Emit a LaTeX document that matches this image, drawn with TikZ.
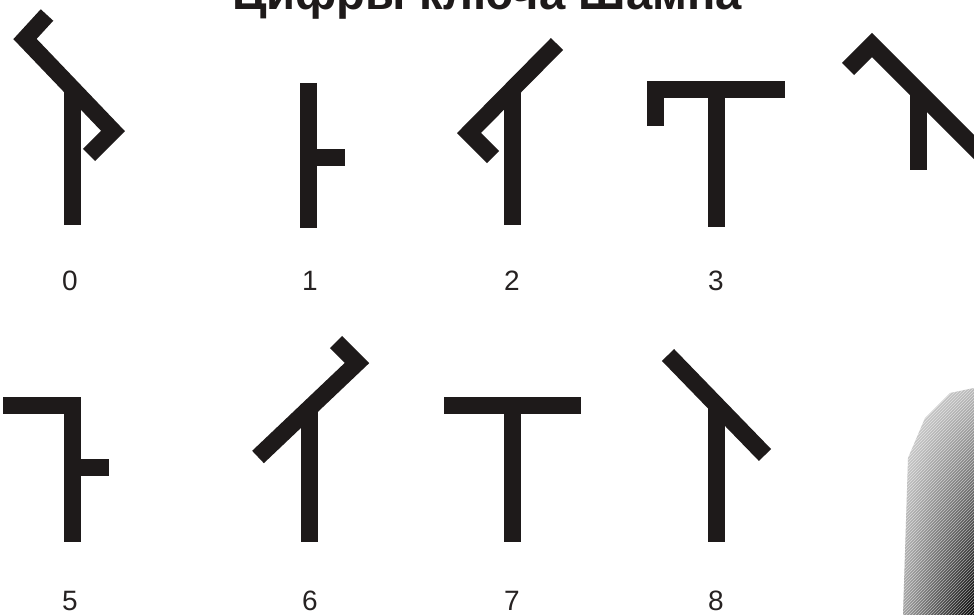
\documentclass[tikz,border=0pt]{standalone}
\usepackage{fontspec}
\setmainfont{Liberation Sans}
\usetikzlibrary{patterns,shadings}
\definecolor{ink}{HTML}{1E1A1A}
\definecolor{digitc}{HTML}{262222}
\begin{document}
\begin{tikzpicture}[x=1pt,y=-1pt,
  glyph/.style={draw=ink, line width=17pt, line cap=butt, line join=miter},
  digit/.style={font=\fontsize{28}{28}\selectfont, text=digitc, inner sep=0pt, anchor=base}]
\useasboundingbox (0,0) rectangle (974,615);
\clip (0,0) rectangle (974,615);
\fill[white] (0,0) rectangle (974,615);

% title (cut off at the top)
\node[anchor=base west, inner sep=0pt, text=ink] (title) at (232,10)
  {\resizebox{510pt}{!}{\textbf{Цифры ключа Шамна}}};

% 0
\draw[glyph] (47,15) -- (25,39) -- (113,131) -- (89,155);
\draw[glyph] (72,89) -- (72,225);
% 1
\draw[glyph] (308,83) -- (308,228);
\draw[glyph] (308,157) -- (345,157);
% 2
\draw[glyph] (557,44) -- (469,133) -- (493,157);
\draw[glyph] (512,91) -- (512,225);
% 3
\draw[glyph] (655,126) -- (655,89.5) -- (785,89.5);
\draw[glyph] (716,89.5) -- (716,227);
% 4 (partly cut)
\draw[glyph] (848,69) -- (872,45) -- (995,168);
\draw[glyph] (918,91) -- (918,170);
% 5
\draw[glyph] (3,405) -- (72,405) -- (72,542);
\draw[glyph] (72,467) -- (109,467);
% 6
\draw[glyph] (258,457) -- (357,363) -- (336,342);
\draw[glyph] (309,409) -- (309,542);
% 7
\draw[glyph] (444,405) -- (581,405);
\draw[glyph] (512,405) -- (512,542);
% 8
\draw[glyph] (668,355) -- (765,455);
\draw[glyph] (716,404) -- (716,542);

% digits
\node[digit] (d0) at (70,290) {0};
\node[digit] (d1) at (310,290) {1};
\node[digit] (d2) at (512,290) {2};
\node[digit] (d3) at (716,290) {3};
\node[digit] (d5) at (70,610) {5};
\node[digit] (d6) at (310,610) {6};
\node[digit] (d7) at (512,610) {7};
\node[digit] (d8) at (716,610) {8};

% photo fragment at lower right
\shade[upper left=gray!25, upper right=gray!55, lower left=gray!75, lower right=black]
  (974,388) -- (950,393) -- (925,418) -- (908,458) -- (903,615) -- (974,615) -- cycle;
\fill[pattern=north east lines, pattern color=white, opacity=0.55]
  (974,388) -- (950,393) -- (925,418) -- (908,458) -- (903,615) -- (974,615) -- cycle;
\end{tikzpicture}
\end{document}
